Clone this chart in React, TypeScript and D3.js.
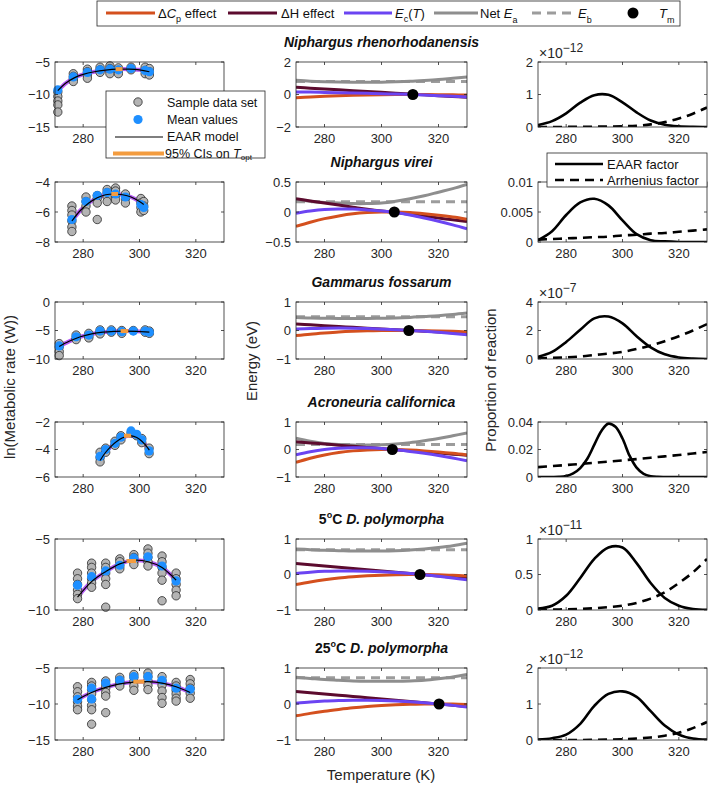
import React from "react";
import * as d3 from "d3";

const FONT = "'Liberation Sans', Arial, Helvetica, sans-serif";
const INK = "#262626";

// panel layout (left/right of each column, top/bottom of each row)
const colX: [number, number][] = [[55, 224], [296, 467], [538, 707]];
const rowY: [number, number][] = [[62, 127], [182, 242], [302, 359], [422, 477], [539, 610], [668, 740]];
const tempDomain = [270, 330];
const tempTicks = [280, 300, 320];

// titles
const titlePrefix = ["", "", "", "", "5", "25"];
const titleNames = ["Niphargus rhenorhodanensis", "Niphargus virei", "Gammarus fossarum", "Acroneuria californica", "D. polymorpha", "D. polymorpha"];

// ---------- column 1: ln(metabolic rate) ----------
const rateDomains = [[-15, -5], [-8, -4], [-10, 0], [-6, -2], [-10, -5], [-15, -5]];
const rateTicks = [[-15, -10, -5], [-8, -6, -4], [-10, -5, 0], [-6, -4, -2], [-10, -5], [-15, -10, -5]];

const rhenoSamples = [
  [271, -9.6], [271, -10.3], [271, -11.0], [271, -11.6], [271, -12.7],
  [276.5, -6.8], [276.5, -7.2], [276.5, -7.6], [276.5, -8.0],
  [281.5, -6.1], [281.5, -6.5], [281.5, -7.0], [281.5, -7.5],
  [286, -5.8], [286, -6.2], [286, -6.6],
  [289.5, -5.6], [289.5, -6.0], [289.5, -6.4], [289.5, -6.8],
  [292.5, -5.9], [292.5, -6.3], [292.5, -6.8],
  [297, -5.8], [297, -6.2],
  [302, -5.8], [302, -6.3], [302, -6.8],
  [303.5, -6.0], [303.5, -6.5], [303.5, -7.0],
];
const rhenoMeans = [[271, -9.3], [276.5, -7.3], [281.5, -6.6], [286, -6.2], [289.5, -6.1], [292.5, -6.2], [297, -6.0], [302, -6.3], [303.5, -6.5]];
const rhenoFit = [[271, -9.4], [274, -8.2], [277, -7.4], [280, -6.9], [284, -6.5], [288, -6.25], [292, -6.1], [296, -6.1], [300, -6.2], [303.5, -6.5]];

const vireiSamples = [
  [276, -5.6], [276, -5.9], [276, -6.2], [276, -6.6], [276, -7.0], [276, -7.3],
  [281, -5.0], [281, -5.3], [281, -5.6], [281, -6.0],
  [285, -4.9], [285, -5.1], [285, -5.4], [285, -6.5],
  [288.5, -4.5], [288.5, -4.7], [288.5, -5.0], [288.5, -5.3],
  [291.5, -4.4], [291.5, -4.6], [291.5, -4.9], [291.5, -5.2],
  [295, -4.8], [295, -5.1], [295, -5.4],
  [300.5, -5.1], [300.5, -5.4], [300.5, -5.7], [300.5, -6.0],
  [301.5, -5.3], [301.5, -5.6], [301.5, -5.9],
];
const vireiMeans = [[276, -6.5], [281, -5.3], [285, -4.9], [288.5, -4.7], [291.5, -4.8], [295, -5.0], [300.5, -5.5], [301.5, -5.7]];
const vireiFit = [[276, -6.6], [279, -5.9], [282, -5.4], [285, -5.05], [288, -4.85], [291, -4.8], [294, -4.85], [297, -5.0], [300, -5.3], [301.5, -5.5]];

const gammarusSamples = [
  [271.5, -7.3], [271.5, -7.9], [271.5, -8.7], [271.5, -9.4],
  [277.5, -5.8], [277.5, -6.3], [277.5, -6.6],
  [282, -5.5], [282, -6.0], [282, -6.3],
  [286, -4.9], [286, -5.3], [286, -5.6],
  [290, -4.9], [290, -5.3],
  [293.7, -5.0], [293.7, -5.5],
  [297.8, -5.0],
  [302, -4.9], [302, -5.3],
  [303.5, -5.1], [303.5, -5.5],
];
const gammarusMeans = [[271.5, -7.7], [277.5, -6.1], [282, -5.8], [286, -5.1], [290, -5.1], [293.7, -5.2], [297.8, -5.1], [302, -5.1], [303.5, -5.3]];
const gammarusFit = [[271.5, -7.8], [275, -6.9], [279, -6.1], [283, -5.6], [287, -5.3], [291, -5.15], [295, -5.1], [299, -5.15], [303.5, -5.3]];

const acroSamples = [
  [286, -4.2], [286, -4.6], [286, -4.9],
  [288, -3.9], [288, -4.2],
  [291.3, -3.4], [291.3, -3.7],
  [293.4, -3.0], [293.4, -3.3],
  [297, -2.8], [299, -3.0],
  [300.8, -3.2], [300.8, -3.5],
  [303.4, -3.9], [303.4, -4.3],
];
const acroMeans = [[286, -4.5], [288, -4.0], [291.3, -3.55], [293.4, -3.1], [297, -2.65], [299, -2.9], [300.8, -3.3], [303.4, -4.1]];
const acroFit = [[286, -4.8], [288, -4.2], [290, -3.75], [292, -3.4], [294, -3.15], [296, -3.0], [298, -3.05], [300, -3.25], [302, -3.65], [303.5, -4.05]];

const dp5Samples = [
  [278, -7.4], [278, -7.8], [278, -8.2], [278, -8.6], [278, -8.9], [278, -9.2],
  [283, -6.7], [283, -7.0], [283, -7.4], [283, -7.8], [283, -8.1], [283, -8.4],
  [288, -6.7], [288, -7.0], [288, -7.4], [288, -7.8], [288, -8.2], [288, -9.8],
  [293, -6.4], [293, -6.6], [293, -6.9], [293, -7.1],
  [298, -6.1], [298, -6.3], [298, -6.6], [298, -6.8],
  [303, -5.7], [303, -6.0], [303, -6.3], [303, -6.6], [303, -6.9],
  [308, -6.2], [308, -6.6], [308, -7.0], [308, -7.4], [308, -7.9], [308, -9.35],
  [313, -7.4], [313, -7.8], [313, -8.2], [313, -8.6], [313, -9.0],
];
const dp5Means = [[278, -8.25], [283, -7.65], [288, -7.25], [293, -6.85], [298, -6.35], [303, -6.25], [308, -6.9], [313, -7.95]];
const dp5Fit = [[278, -9.1], [283, -8.0], [288, -7.3], [293, -6.75], [298, -6.5], [303, -6.6], [308, -7.0], [313, -7.9]];

const dp25Samples = [
  [278, -7.6], [278, -8.3], [278, -9.0], [278, -9.7], [278, -10.3], [278, -10.8],
  [283, -7.0], [283, -7.5], [283, -8.0], [283, -8.6], [283, -9.4], [283, -10.2], [283, -10.8], [283, -12.8],
  [288, -6.8], [288, -7.3], [288, -7.8], [288, -8.4], [288, -8.9], [288, -11.2],
  [293, -6.3], [293, -6.7], [293, -7.1], [293, -7.5],
  [298, -5.9], [298, -6.3], [298, -6.9], [298, -7.5], [298, -8.1],
  [303, -5.7], [303, -6.2], [303, -6.8], [303, -7.4], [303, -8.0],
  [308, -6.2], [308, -6.8], [308, -7.4], [308, -8.2], [308, -9.1], [308, -9.9],
  [313, -7.0], [313, -7.5], [313, -8.1], [313, -8.6], [313, -9.2], [313, -9.6],
  [318, -6.6], [318, -7.2], [318, -7.8], [318, -8.5], [318, -9.2],
];
const dp25Means = [[278, -9.35], [283, -7.8], [283, -9.3], [288, -7.1], [293, -6.7], [298, -6.2], [303, -6.2], [308, -6.7], [313, -7.8], [318, -7.95]];
const dp25Fit = [[278, -9.4], [283, -8.4], [288, -7.7], [293, -7.2], [298, -6.95], [303, -6.9], [308, -7.1], [313, -7.6], [318, -8.4]];

const sampleSets = [rhenoSamples, vireiSamples, gammarusSamples, acroSamples, dp5Samples, dp25Samples];
const meanSets = [rhenoMeans, vireiMeans, gammarusMeans, acroMeans, dp5Means, dp25Means];
const fitSets = [rhenoFit, vireiFit, gammarusFit, acroFit, dp5Fit, dp25Fit];
// 95% CI on T_opt: [low, high, value]
const toptCI = [[291.5, 294, -6.1], [290, 292.4, -4.8], [293.3, 296, -5.1], [294.5, 297, -3.0], [295.4, 298.8, -6.55], [297.8, 301.7, -6.9]];

// ---------- column 2: energies ----------
const energyTemps = [270, 275, 280, 285, 290, 295, 300, 305, 310, 315, 320, 325, 330];
const energyDomains = [[-2, 2], [-0.5, 0.5], [-1, 1], [-1, 1], [-1, 1], [-1, 1]];
const energyTicks = [[-2, 0, 2], [-0.5, 0, 0.5], [-1, 0, 1], [-1, 0, 1], [-1, 0, 1], [-1, 0, 1]];

const rhenoCp = [-0.2, -0.15, -0.11, -0.075, -0.045, -0.025, -0.01, -0.003, 0, -0.003, -0.01, -0.02, -0.035];
const rhenoH = [0.44, 0.39, 0.34, 0.29, 0.235, 0.185, 0.135, 0.08, 0.03, -0.02, -0.07, -0.12, -0.17];
const rhenoEc = [0.16, 0.15, 0.13, 0.11, 0.09, 0.07, 0.05, 0.025, 0.005, -0.03, -0.07, -0.11, -0.16];
const rhenoNet = [0.87, 0.82, 0.79, 0.77, 0.76, 0.76, 0.76, 0.78, 0.81, 0.86, 0.92, 1.0, 1.08];

const vireiCp = [-0.24, -0.17, -0.11, -0.065, -0.03, -0.01, 0, 0, -0.01, -0.03, -0.055, -0.085, -0.12];
const vireiH = [0.22, 0.185, 0.15, 0.115, 0.08, 0.045, 0.015, -0.01, -0.04, -0.07, -0.1, -0.13, -0.16];
const vireiEc = [-0.02, 0.015, 0.04, 0.05, 0.05, 0.035, 0.015, -0.01, -0.05, -0.1, -0.155, -0.215, -0.28];
const vireiNet = [0.21, 0.18, 0.16, 0.15, 0.14, 0.14, 0.15, 0.18, 0.22, 0.27, 0.33, 0.39, 0.46];

const gammarusCp = [-0.18, -0.13, -0.09, -0.055, -0.03, -0.012, -0.003, 0, 0, -0.005, -0.015, -0.03, -0.05];
const gammarusH = [0.23, 0.2, 0.17, 0.14, 0.11, 0.08, 0.05, 0.025, 0, -0.025, -0.05, -0.075, -0.1];
const gammarusEc = [0.05, 0.07, 0.08, 0.085, 0.08, 0.068, 0.047, 0.025, 0, -0.03, -0.065, -0.105, -0.15];
const gammarusNet = [0.46, 0.44, 0.43, 0.42, 0.42, 0.42, 0.43, 0.44, 0.46, 0.49, 0.52, 0.56, 0.61];

const acroCp = [-0.47, -0.32, -0.2, -0.11, -0.05, -0.015, 0, -0.003, -0.02, -0.05, -0.09, -0.14, -0.2];
const acroH = [0.28, 0.24, 0.2, 0.155, 0.115, 0.075, 0.035, -0.01, -0.05, -0.09, -0.13, -0.17, -0.21];
const acroEc = [-0.19, -0.08, 0, 0.045, 0.065, 0.06, 0.035, -0.013, -0.07, -0.14, -0.22, -0.31, -0.41];
const acroNet = [0.41, 0.3, 0.22, 0.18, 0.16, 0.16, 0.17, 0.2, 0.25, 0.32, 0.4, 0.5, 0.6];

const dp5Cp = [-0.28, -0.21, -0.15, -0.1, -0.065, -0.038, -0.018, -0.006, 0, -0.002, -0.01, -0.022, -0.04];
const dp5H = [0.31, 0.275, 0.24, 0.205, 0.17, 0.135, 0.1, 0.065, 0.03, -0.005, -0.04, -0.075, -0.11];
const dp5Ec = [0.03, 0.065, 0.09, 0.1, 0.1, 0.095, 0.08, 0.058, 0.03, -0.007, -0.05, -0.097, -0.15];
const dp5Net = [0.72, 0.7, 0.68, 0.67, 0.66, 0.66, 0.66, 0.67, 0.69, 0.72, 0.76, 0.81, 0.88];

const dp25Cp = [-0.33, -0.26, -0.2, -0.15, -0.105, -0.07, -0.043, -0.022, -0.008, -0.001, 0, -0.003, -0.015];
const dp25H = [0.35, 0.315, 0.28, 0.245, 0.21, 0.175, 0.14, 0.105, 0.07, 0.035, 0, -0.035, -0.07];
const dp25Ec = [0.02, 0.055, 0.08, 0.095, 0.105, 0.105, 0.097, 0.083, 0.062, 0.034, 0, -0.038, -0.085];
const dp25Net = [0.74, 0.71, 0.68, 0.66, 0.64, 0.63, 0.63, 0.63, 0.64, 0.66, 0.7, 0.75, 0.82];

const cpSets = [rhenoCp, vireiCp, gammarusCp, acroCp, dp5Cp, dp25Cp];
const hSets = [rhenoH, vireiH, gammarusH, acroH, dp5H, dp25H];
const ecSets = [rhenoEc, vireiEc, gammarusEc, acroEc, dp5Ec, dp25Ec];
const netSets = [rhenoNet, vireiNet, gammarusNet, acroNet, dp5Net, dp25Net];
const ebValues = [0.8, 0.17, 0.48, 0.18, 0.7, 0.73];
const tmValues = [311, 304.5, 309.6, 303.8, 313.5, 320.2];

// ---------- column 3: proportion of reaction ----------
const propTemps = [270, 275, 280, 285, 290, 295, 300, 305, 310, 315, 320, 325, 330];
const acroTempsFine = [270, 272.5, 275, 277.5, 280, 282.5, 285, 287.5, 290, 292.5, 295, 297.5, 300, 302.5, 305, 307.5, 310, 312.5, 315, 317.5, 320, 322.5, 325, 327.5, 330];
const propDomains = [[0, 2], [0, 0.01], [0, 4], [0, 0.04], [0, 1], [0, 2]];
const propTicks = [[0, 1, 2], [0, 0.005, 0.01], [0, 2, 4], [0, 0.02, 0.04], [0, 0.5, 1], [0, 1, 2]];
const propExponents = [-12, null, -7, null, -11, -12];

const rhenoEaar = [0.06, 0.18, 0.42, 0.75, 0.98, 0.99, 0.76, 0.45, 0.2, 0.07, 0.02, 0.005, 0];
const rhenoArr = [0, 0, 0.003, 0.006, 0.01, 0.015, 0.022, 0.04, 0.08, 0.15, 0.26, 0.41, 0.6];
const vireiEaar = [0.0003, 0.0018, 0.0045, 0.0066, 0.0072, 0.0061, 0.0036, 0.0013, 0.0003, 0.0001, 0, 0, 0];
const vireiArr = [0.0004, 0.0005, 0.0006, 0.0007, 0.0008, 0.0009, 0.0011, 0.0012, 0.0014, 0.0015, 0.0017, 0.0019, 0.0021];
const gammarusEaar = [0.15, 0.5, 1.2, 2.05, 2.85, 2.98, 2.5, 1.6, 0.82, 0.33, 0.11, 0.03, 0.005];
const gammarusArr = [0.05, 0.08, 0.12, 0.18, 0.28, 0.38, 0.5, 0.7, 0.95, 1.25, 1.6, 2.0, 2.45];
const acroEaar = [0, 0, 0, 0.0001, 0.0007, 0.0026, 0.0065, 0.0133, 0.0235, 0.0335, 0.0388, 0.0365, 0.028, 0.0155, 0.0068, 0.0023, 0.0006, 0.0001, 0, 0, 0, 0, 0, 0, 0];
const acroArr = [0.0072, 0.0079, 0.0087, 0.0095, 0.0103, 0.0112, 0.0121, 0.013, 0.014, 0.015, 0.016, 0.0171, 0.0182];
const dp5Eaar = [0.02, 0.06, 0.2, 0.45, 0.72, 0.88, 0.88, 0.66, 0.38, 0.17, 0.06, 0.015, 0.003];
const dp5Arr = [0, 0.005, 0.01, 0.015, 0.025, 0.04, 0.06, 0.1, 0.16, 0.25, 0.38, 0.53, 0.72];
const dp25Eaar = [0.01, 0.05, 0.15, 0.45, 0.95, 1.28, 1.35, 1.2, 0.8, 0.4, 0.15, 0.04, 0.01];
const dp25Arr = [0, 0, 0, 0, 0.005, 0.01, 0.02, 0.04, 0.07, 0.12, 0.2, 0.33, 0.5];

const eaarSets = [rhenoEaar, vireiEaar, gammarusEaar, acroEaar, dp5Eaar, dp25Eaar];
const eaarTemps = [propTemps, propTemps, propTemps, acroTempsFine, propTemps, propTemps];
const arrSets = [rhenoArr, vireiArr, gammarusArr, acroArr, dp5Arr, dp25Arr];

// colours
const C_CP = "#D4501E";
const C_H = "#5C0B2E";
const C_EC = "#6B44F2";
const C_NET = "#8E8E8E";
const C_EB = "#9C9C9C";
const C_SAMPLE = "#B4B4B4";
const C_MEAN = "#1E8FFF";
const C_FITBAND = "#B65CF5";
const C_CI = "#F39C3F";

const smooth = d3.curveCatmullRom.alpha(0.5);
const fmtTick = (v: number) => String(v).replace("-", "\u2212");

type Lin = d3.ScaleLinear<number, number>;

function Panel({ id, xs, ys, yTicks, xLabels = tempTicks, clipped, children }: { id: string; xs: Lin; ys: Lin; yTicks: number[]; xLabels?: number[]; clipped?: React.ReactNode; children?: React.ReactNode }) {
  const [x0, x1] = xs.range();
  const [yb, yt] = ys.range();
  return (
    <g>
      <defs>
        <clipPath id={id}>
          <rect x={x0} y={yt} width={x1 - x0} height={yb - yt} />
        </clipPath>
      </defs>
      <rect x={x0} y={yt} width={x1 - x0} height={yb - yt} fill="white" />
      <g clipPath={`url(#${id})`}>{clipped}</g>
      {children}
      <rect x={x0} y={yt} width={x1 - x0} height={yb - yt} fill="none" stroke={INK} strokeWidth={0.8} />
      {tempTicks.map((t) => (
        <g key={t} stroke={INK} strokeWidth={0.8}>
          <line x1={xs(t)} x2={xs(t)} y1={yb} y2={yb - 3} />
          <line x1={xs(t)} x2={xs(t)} y1={yt} y2={yt + 3} />
        </g>
      ))}
      {xLabels.map((t) => (
        <text key={"l" + t} x={xs(t)} y={yb + 16} textAnchor="middle" fontSize={13} fill={INK}>
          {t}
        </text>
      ))}
      {yTicks.map((v) => (
        <g key={"y" + v}>
          <line x1={x0} x2={x0 + 3} y1={ys(v)} y2={ys(v)} stroke={INK} strokeWidth={0.8} />
          <line x1={x1} x2={x1 - 3} y1={ys(v)} y2={ys(v)} stroke={INK} strokeWidth={0.8} />
          <text x={x0 - 5} y={ys(v)} dy="0.35em" textAnchor="end" fontSize={13} fill={INK}>
            {fmtTick(v)}
          </text>
        </g>
      ))}
    </g>
  );
}

export default function App() {
  const rows = rowY.map((ry, r) => {
    const [top, bottom] = ry;
    // column 1
    const xs1 = d3.scaleLinear().domain(tempDomain).range(colX[0]);
    const ys1 = d3.scaleLinear().domain(rateDomains[r]).range([bottom, top]);
    const fitLine = d3.line<number[]>().x((d) => xs1(d[0])).y((d) => ys1(d[1])).curve(smooth);
    const ci = toptCI[r];

    // column 2
    const xs2 = d3.scaleLinear().domain(tempDomain).range(colX[1]);
    const ys2 = d3.scaleLinear().domain(energyDomains[r]).range([bottom, top]);
    const eLine = (vals: number[]) =>
      d3.line<number>().x((_, i) => xs2(energyTemps[i])).y((d) => ys2(d)).curve(smooth)(vals) || "";

    // column 3
    const xs3 = d3.scaleLinear().domain(tempDomain).range(colX[2]);
    const ys3 = d3.scaleLinear().domain(propDomains[r]).range([bottom, top]);
    const pLine = (temps: number[], vals: number[]) =>
      d3.line<number>().x((_, i) => xs3(temps[i])).y((d) => ys3(d)).curve(smooth)(vals) || "";
    const expo = propExponents[r];

    return (
      <g key={r}>
        <text x={(colX[1][0] + colX[1][1]) / 2} y={top - 15} textAnchor="middle" fontSize={14} fontWeight="bold" fill="#111">
          {titlePrefix[r] && (
            <>
              {titlePrefix[r]}
              <tspan dy={-6} fontSize={9}>o</tspan>
              <tspan dy={6}>C </tspan>
            </>
          )}
          <tspan fontStyle="italic">{titleNames[r]}</tspan>
        </text>

        {/* the first panel's 300/320 labels sit under the legend box */}
        <Panel id={`rate${r}`} xs={xs1} ys={ys1} yTicks={rateTicks[r]} xLabels={r === 0 ? [280] : tempTicks}
          clipped={<path d={fitLine(fitSets[r]) || ""} fill="none" stroke={C_FITBAND} strokeWidth={4} />}>
          {sampleSets[r].map((d, i) => (
            <circle key={"s" + i} cx={xs1(d[0])} cy={ys1(d[1])} r={4.2} fill={C_SAMPLE} stroke="#2a2a2a" strokeWidth={0.8} />
          ))}
          {meanSets[r].map((d, i) => (
            <circle key={"m" + i} cx={xs1(d[0])} cy={ys1(d[1])} r={4.6} fill={C_MEAN} />
          ))}
          <path d={fitLine(fitSets[r]) || ""} fill="none" stroke="#000" strokeWidth={1.2} />
          <line x1={xs1(ci[0])} x2={xs1(ci[1])} y1={ys1(ci[2])} y2={ys1(ci[2])} stroke={C_CI} strokeWidth={4} />
        </Panel>

        <Panel id={`energy${r}`} xs={xs2} ys={ys2} yTicks={energyTicks[r]}
          clipped={
            <>
              <line x1={xs2(270)} x2={xs2(330)} y1={ys2(ebValues[r])} y2={ys2(ebValues[r])} stroke={C_EB} strokeWidth={3} strokeDasharray="9,6" />
              <path d={eLine(netSets[r])} fill="none" stroke={C_NET} strokeWidth={3} />
              <path d={eLine(hSets[r])} fill="none" stroke={C_H} strokeWidth={3} />
              <path d={eLine(cpSets[r])} fill="none" stroke={C_CP} strokeWidth={3} />
              <path d={eLine(ecSets[r])} fill="none" stroke={C_EC} strokeWidth={3} />
            </>
          }>
          <circle cx={xs2(tmValues[r])} cy={ys2(0)} r={5.5} fill="#000" />
        </Panel>

        <Panel id={`prop${r}`} xs={xs3} ys={ys3} yTicks={propTicks[r]}
          clipped={
            <>
              <path d={pLine(propTemps, arrSets[r])} fill="none" stroke="#000" strokeWidth={2.6} strokeDasharray="9,6" />
              <path d={pLine(eaarTemps[r], eaarSets[r])} fill="none" stroke="#000" strokeWidth={2.6} />
            </>
          }>
          {expo !== null && (
            <text x={colX[2][0] + 1} y={top - 4} fontSize={14} fill={INK}>
              {"\u00d710"}
              <tspan dy={-6} fontSize={12}>{fmtTick(expo as number)}</tspan>
            </text>
          )}
        </Panel>
      </g>
    );
  });

  return (
    <div>
      <style>{"body{margin:0}"}</style>
      <svg width={709} height={786} style={{ display: "block", fontFamily: FONT }}>
        <rect width={709} height={786} fill="white" />
        {rows}

        {/* top legend */}
        <g fontSize={13} fill="#111">
          <rect x={97} y={1} width={583} height={25} fill="white" stroke={INK} strokeWidth={0.8} />
          <line x1={106} x2={155} y1={13} y2={13} stroke={C_CP} strokeWidth={3} />
          <text x={158} y={18}>{"\u0394"}<tspan fontStyle="italic">C</tspan><tspan dy={4} fontSize={9}>p</tspan><tspan dy={-4}> effect</tspan></text>
          <line x1={228} x2={277} y1={13} y2={13} stroke={C_H} strokeWidth={3} />
          <text x={281} y={18}>{"\u0394H effect"}</text>
          <line x1={344} x2={392} y1={13} y2={13} stroke={C_EC} strokeWidth={3} />
          <text x={395} y={18}><tspan fontStyle="italic">E</tspan><tspan dy={4} fontSize={9}>c</tspan><tspan dy={-4}>(</tspan><tspan fontStyle="italic">T</tspan>)</text>
          <line x1={434} x2={478} y1={13} y2={13} stroke={C_NET} strokeWidth={3} />
          <text x={480} y={18}>Net <tspan fontStyle="italic">E</tspan><tspan dy={5} fontSize={9}>a</tspan></text>
          <line x1={532} x2={575} y1={13} y2={13} stroke={C_EB} strokeWidth={3} strokeDasharray="9,6" />
          <text x={578} y={18}><tspan fontStyle="italic">E</tspan><tspan dy={5} fontSize={9}>b</tspan></text>
          <circle cx={633} cy={13} r={5.5} fill="#000" />
          <text x={659} y={18}><tspan fontStyle="italic">T</tspan><tspan dy={5} fontSize={9}>m</tspan></text>
        </g>

        {/* column 1 legend */}
        <g fontSize={12.5} fill="#111">
          <rect x={106} y={91} width={159} height={67} fill="white" stroke={INK} strokeWidth={0.8} />
          <circle cx={138} cy={102} r={4.2} fill={C_SAMPLE} stroke="#2a2a2a" strokeWidth={0.8} />
          <text x={167} y={106.5}>Sample data set</text>
          <circle cx={138} cy={119.5} r={4.6} fill={C_MEAN} />
          <text x={167} y={124}>Mean values</text>
          <line x1={115} x2={163} y1={137} y2={137} stroke="#000" strokeWidth={1.2} />
          <text x={167} y={141}>EAAR model</text>
          <line x1={113} x2={164} y1={153.5} y2={153.5} stroke={C_CI} strokeWidth={4} />
          <text x={165} y={157.5}>95% CIs on <tspan fontStyle="italic">T</tspan><tspan dy={2} fontSize={8}>opt</tspan></text>
        </g>

        {/* column 3 legend */}
        <g fontSize={13} fill="#111">
          <rect x={547} y={153} width={160} height={34} fill="white" stroke={INK} strokeWidth={0.8} />
          <line x1={555} x2={603} y1={164} y2={164} stroke="#000" strokeWidth={2.6} />
          <text x={607} y={168.5}>EAAR factor</text>
          <line x1={555} x2={603} y1={180} y2={180} stroke="#000" strokeWidth={2.6} strokeDasharray="9,6" />
          <text x={607} y={184.5}>Arrhenius factor</text>
        </g>

        {/* axis labels */}
        <g fontSize={15} fill={INK}>
          <text transform="translate(15,387) rotate(-90)" textAnchor="middle">ln(Metabolic rate (W))</text>
          <text transform="translate(257,361) rotate(-90)" textAnchor="middle">Energy (eV)</text>
          <text transform="translate(496,380) rotate(-90)" textAnchor="middle">Proportion of reaction</text>
          <text x={381} y={780} textAnchor="middle">Temperature (K)</text>
        </g>
      </svg>
    </div>
  );
}
